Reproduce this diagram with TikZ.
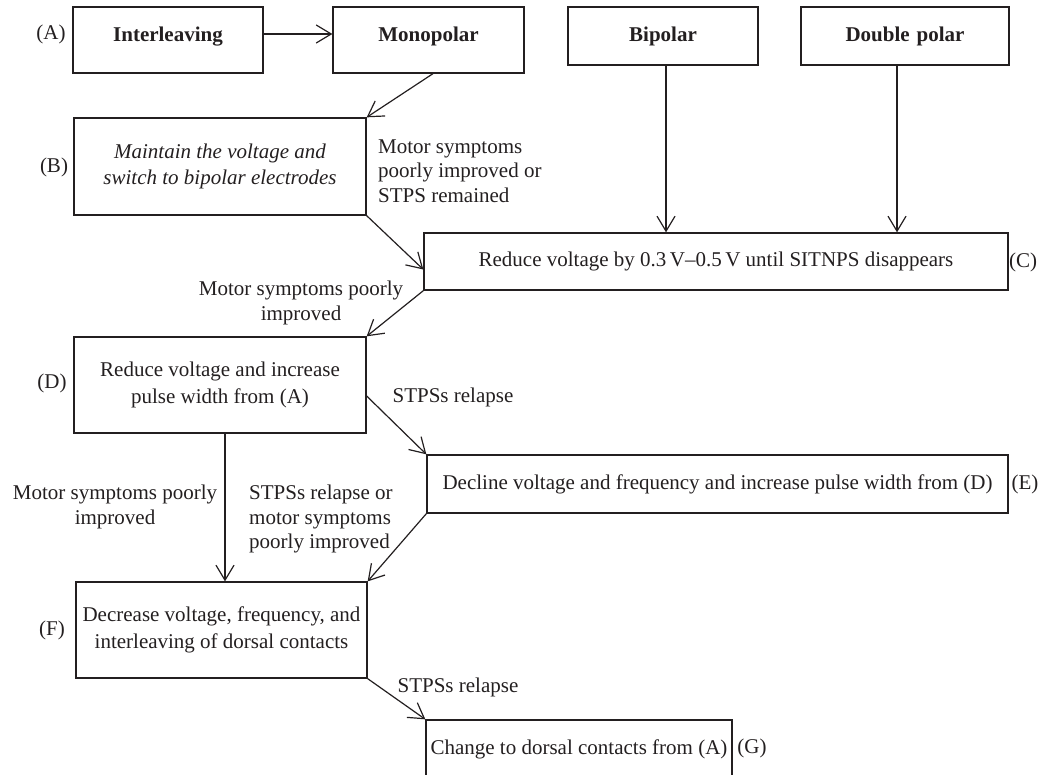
\documentclass[tikz,border=0pt]{standalone}
\usepackage{fontspec}
\setmainfont{Liberation Serif}
\usetikzlibrary{arrows.meta}
\definecolor{ink}{HTML}{231F20}
\tikzset{
  bx/.style={draw=ink, line width=1.3pt, inner sep=0pt, align=center, text=ink,
    font=\fontsize{21}{26.5}\selectfont},
  topbx/.style={bx, font=\bfseries\fontsize{21}{26.5}\selectfont, text height=35pt},
  lab/.style={inner sep=0pt, text=ink, font=\fontsize{21}{24.5}\selectfont},
  arr/.style={draw=ink, line width=1.2pt, -{Straight Barb[length=15pt,width=18pt,line width=1.2pt]}}
}
\begin{document}
\begin{tikzpicture}[x=1pt,y=-1pt]
\useasboundingbox (0,0) rectangle (1043,775);
% boxes
\node[topbx, text width=190pt, text depth=31pt] (Int) at (168,40) {Interleaving};
\node[topbx, text width=191pt, text depth=31pt] (Mono) at (428.5,40) {Monopolar};
\node[topbx, text width=190pt, text depth=23pt] (Bip) at (663,36) {Bipolar};
\node[topbx, text width=208pt, text depth=23pt] (Dbl) at (905,36) {Double polar};
\node[bx, minimum width=292pt, minimum height=97pt, font=\itshape\fontsize{21}{26.5}\selectfont] (B) at (220,166.5) {Maintain the voltage and\\switch to bipolar electrodes};
\node[bx, minimum width=584pt, minimum height=57pt] (C) at (716,261.5) {Reduce voltage by 0.3\,V--0.5\,V until SITNPS disappears};
\node[bx, minimum width=292pt, minimum height=96pt] (D) at (220,385) {Reduce voltage and increase\\pulse width from (A)};
\node[bx, minimum width=581pt, minimum height=58pt] (E) at (717.5,484) {Decline voltage and frequency and increase pulse width from (D)};
\node[bx, minimum width=291pt, minimum height=96pt] (F) at (221.5,630) {Decrease voltage, frequency, and\\interleaving of dorsal contacts};
\node[bx, minimum width=306pt, minimum height=58pt] (G) at (579,749) {Change to dorsal contacts from (A)};
% side letters
\node[lab] (tA) at (51,34) {(A)};
\node[lab] (tB) at (54,167) {(B)};
\node[lab] (tC) at (1023,262) {(C)};
\node[lab] (tD) at (52,383) {(D)};
\node[lab] (tE) at (1025,484) {(E)};
\node[lab] (tF) at (52,630) {(F)};
\node[lab] (tG) at (752,748) {(G)};
% connector labels
\node[lab, anchor=west, align=left] (lBC) at (378,171) {Motor symptoms\\poorly improved or\\STPS remained};
\node[lab, align=center] (lCD) at (301,303) {Motor symptoms poorly\\improved};
\node[lab] (lDE) at (453,397) {STPSs relapse};
\node[lab, align=center] (lDF) at (115,507) {Motor symptoms poorly\\improved};
\node[lab, anchor=west, align=left] (lEF) at (249,519) {STPSs relapse or\\motor symptoms\\poorly improved};
\node[lab] (lFG) at (458,687) {STPSs relapse};
% helper coordinates
\coordinate (bx) at (666,0);
\coordinate (dx) at (897,0);
\coordinate (fx) at (225,0);
% connectors
\draw[arr] ([yshift=6pt]Int.east) -- ([yshift=6pt]Mono.west);
\draw[arr] ([xshift=4.5pt]Mono.south) -- (B.north east);
\draw[arr] (Bip.south -| bx) -- (C.north -| bx);
\draw[arr] (Dbl.south -| dx) -- (C.north -| dx);
\draw[arr] (B.south east) -- ([yshift=-8pt]C.west);
\draw[arr] (C.south west) -- (D.north east);
\draw[arr] ([yshift=-11pt]D.east) -- (E.north west);
\draw[arr] (D.south -| fx) -- (F.north -| fx);
\draw[arr] (E.south west) -- (F.north east);
\draw[arr] (F.south east) -- (G.north west);
\end{tikzpicture}
\end{document}
